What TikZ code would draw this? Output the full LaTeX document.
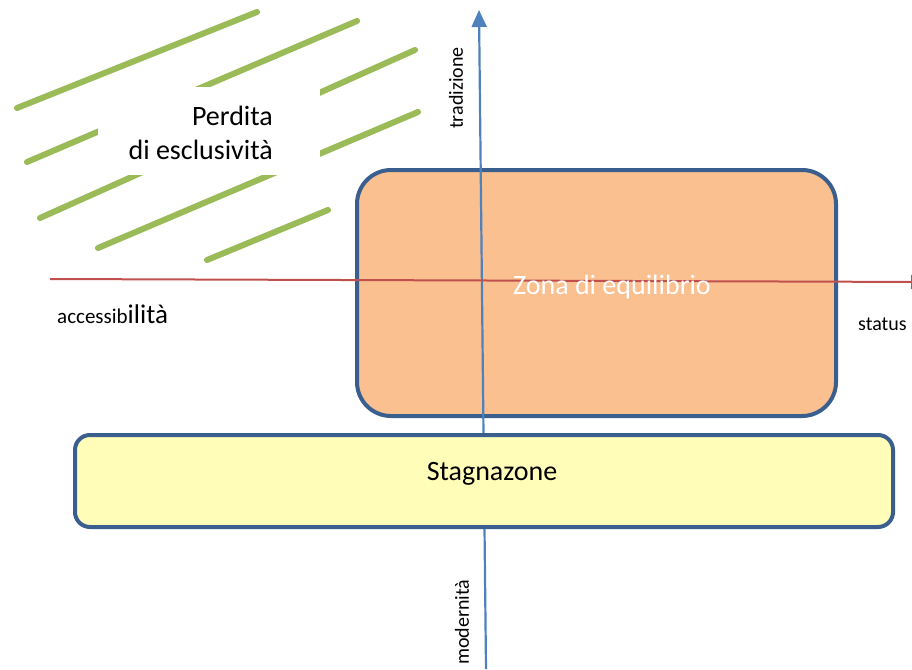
\documentclass[tikz,border=0pt]{standalone}
\usepackage{fontspec}
\setmainfont{Carlito}
\usetikzlibrary{arrows.meta}
\definecolor{verde}{HTML}{9BBB59}
\definecolor{blu}{HTML}{4F81BD}
\definecolor{rosso}{HTML}{C0504D}
\definecolor{bordo}{HTML}{3A5F8E}
\definecolor{arancio}{HTML}{FAC090}
\definecolor{giallo}{HTML}{FFFDB8}
\tikzset{
  striscia/.style={verde, line width=6pt, line cap=round},
  zona/.style={draw=bordo, line width=4pt, inner sep=0pt},
  etichetta/.style={font=\fontsize{20}{24}\selectfont, inner sep=0pt},
  grande/.style={font=\fontsize{28}{34}\selectfont, inner sep=0pt}
}
\begin{document}
\begin{tikzpicture}[x=1pt,y=-1pt]
\useasboundingbox (0,0) rectangle (912,669);

% strisce verdi
\draw [striscia] (17,108) -- (257,12);
\draw [striscia] (27,162) -- (357,21);
\draw [striscia] (40,218) -- (415,50);
\draw [striscia] (98,248) -- (418,112);
\draw [striscia] (207,260) -- (328,210);
\node (bianco) [fill=white, minimum width=222pt, minimum height=88pt, inner sep=0pt] at (209,131) {};
\node (perdita) [grande, align=right, anchor=east] at (273,133) {Perdita\\di esclusività};

% zona di equilibrio
\node (equilibrio) [zona, fill=arancio, rounded corners=34pt, minimum width=479pt, minimum height=246pt] at (596.5,293) {};

% assi
\coordinate (ybasso) at (486,669);
\coordinate (yalto) at (479,10);
\coordinate (xsin) at (50,279);
\coordinate (xdes) at (926,282);
\draw [blu, line width=2.2pt, -{Triangle[width=15pt,length=17pt]}] (ybasso) -- (yalto);
\draw [rosso, line width=2pt, -{Triangle[width=14pt,length=15pt]}] (xsin) -- (xdes);

\node (testozona) [grande, text=white] at (612,287) {Zona di equilibrio};

% stagnazione
\node (stagnazione) [zona, fill=giallo, rounded corners=15pt, minimum width=818pt, minimum height=92pt] at (484,481) {};
\node (testostagn) [grande] at (492,474) {Stagnazone};

% etichette degli assi
\node (tradizione) [etichetta, rotate=90] at (456,88) {tradizione};
\node (modernita) [etichetta, rotate=90] at (462,622) {modernità};
\node (accesso) [inner sep=0pt, anchor=base west] at (57,323) {\fontsize{21}{24}\selectfont accessib\fontsize{27}{30}\selectfont ilità};
\node (status) [etichetta, anchor=base west] at (858,330) {status};

\end{tikzpicture}
\end{document}
